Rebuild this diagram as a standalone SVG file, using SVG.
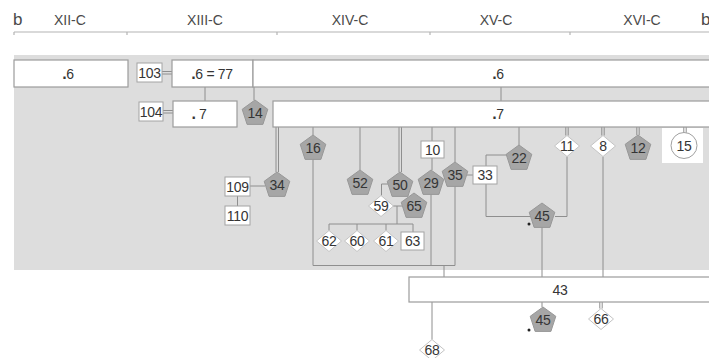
<svg xmlns="http://www.w3.org/2000/svg" xmlns:xlink="http://www.w3.org/1999/xlink" width="709" height="358" viewBox="0 0 709 358">
  <style>
    text { font-family: "Liberation Sans", Arial, sans-serif; fill: #353535; }
    .hdr { font-size: 14px; fill: #4a4a4a; }
    .big { font-size: 17px; fill: #4a4a4a; }
    .num { font-size: 14px; text-anchor: middle; letter-spacing: -0.3px; }
    .dot { font-weight: bold; font-size: 16px; }
    .box { fill: #ffffff; stroke: #9c9c9c; stroke-width: 1.2; }
    .sbox { fill: #ffffff; stroke: #a4a4a4; stroke-width: 1; }
    .pent { fill: #a6a6a6; stroke: #989898; stroke-width: 1; }
    .dia { fill: #ffffff; stroke: #c4c4c4; stroke-width: 1; }
    .ln { fill: none; stroke: #8e8e8e; stroke-width: 1; }
    .axis { fill: none; stroke: #b4b4b4; stroke-width: 1.2; }
  </style>
  <defs>
    <polygon id="pent" class="pent" points="0,-13.5 12.8,-4.2 7.9,10.9 -7.9,10.9 -12.8,-4.2"/>
    <polygon id="dia" class="dia" points="0,-10.5 12.5,0 0,10.5 -12.5,0"/>
  </defs>

  <!-- century scale -->
  <g id="scale">
    <text class="big" x="13" y="25">b</text>
    <text class="hdr" x="54" y="25">XII-C</text>
    <text class="hdr" x="205" y="25" text-anchor="middle">XIII-C</text>
    <text class="hdr" x="350" y="25" text-anchor="middle">XIV-C</text>
    <text class="hdr" x="496" y="25" text-anchor="middle">XV-C</text>
    <text class="hdr" x="642" y="25" text-anchor="middle">XVI-C</text>
    <text class="big" x="701" y="25">b</text>
    <path class="axis" d="M14,32 H709 M14,32 v3 M127,32 v3 M277,32 v3 M430,32 v3 M570,32 v3"/>
  </g>

  <!-- shaded field -->
  <rect x="14" y="55" width="695" height="215" fill="#dddddd"/>
  <rect x="662" y="128" width="41" height="35" fill="#ffffff"/>

  <!-- connectors -->
  <g id="connectors" class="ln">
    <path d="M162,71.5 H172 M162,74 H172"/>
    <path d="M163,110.5 H173 M163,113 H173"/>
    <path d="M205,87 V101"/>
    <path d="M254,60 V100"/>
    <path d="M501,87 V101"/>
    <path d="M276,127 V172 M278.5,127 V172"/>
    <path d="M250,186 H265"/>
    <path d="M237.5,196 V206"/>
    <path d="M313,127 V135 M313,158 V265.5 H455"/>
    <path d="M360,127 V170"/>
    <path d="M399,127 V172 M401.5,127 V172"/>
    <path d="M388,184 H381.5 V195.5"/>
    <path d="M392,206 H402 M397,206 V224 M329,224 H413 M329,224 V230.5 M357,224 V230.5 M386,224 V230.5 M413,224 V232"/>
    <path d="M432,127 V141 M432,158 V170 M431,194 V265.5"/>
    <path d="M455,127 V162 M455,186 V265.5"/>
    <path d="M444,265.5 V277"/>
    <path d="M467,175 H473"/>
    <path d="M519,127 V145 M508,155 H486 V216.5 H530"/>
    <path d="M567,156.5 V216.5 H555"/>
    <path d="M542,227 V277"/>
    <path d="M603,156.5 V277"/>
    <path d="M565.8,127 V135.5 M568.2,127 V135.5"/>
    <path d="M601.8,127 V135.5 M604.2,127 V135.5"/>
    <path d="M636.8,127 V135 M639.2,127 V135"/>
    <path d="M683.8,127 V133 M686.2,127 V133"/>
    <path d="M432,302 V339.5"/>
    <path d="M542,302 V307"/>
    <path d="M599.8,302 V308.5 M602.2,302 V308.5"/>
  </g>

  <!-- first row -->
  <g id="n-6a"><rect class="box" x="14" y="60" width="114" height="27"/><text class="num" x="68" y="78.5"><tspan class="dot">.</tspan>6</text></g>
  <g id="n-103"><rect class="sbox" x="137" y="63" width="25" height="19"/><text class="num" x="149.5" y="77.5">103</text></g>
  <g id="n-6-77"><rect class="box" x="172" y="60" width="81" height="27"/><text class="num" x="212" y="78.5"><tspan class="dot">.</tspan>6 = 77</text></g>
  <g id="n-6b"><rect class="box" x="253" y="60" width="460" height="27"/><text class="num" x="498" y="78.5"><tspan class="dot">.</tspan>6</text></g>

  <!-- second row -->
  <g id="n-104"><rect class="sbox" x="139" y="102" width="24" height="19"/><text class="num" x="151" y="116.5">104</text></g>
  <g id="n-7a"><rect class="box" x="173" y="101" width="64" height="26"/><text class="num" x="199" y="119"><tspan class="dot">.</tspan> 7</text></g>
  <g id="n-14"><use xlink:href="#pent" x="255" y="113.5"/><text class="num" x="255" y="118">14</text></g>
  <g id="n-7b"><rect class="box" x="273" y="101" width="440" height="26"/><text class="num" x="498" y="119"><tspan class="dot">.</tspan>7</text></g>

  <!-- pentagon nodes -->
  <g id="n-16"><use xlink:href="#pent" x="313" y="148.5"/><text class="num" x="313" y="153">16</text></g>
  <g id="n-34"><use xlink:href="#pent" x="277" y="185.5"/><text class="num" x="277" y="190">34</text></g>
  <g id="n-52"><use xlink:href="#pent" x="360" y="183.5"/><text class="num" x="360" y="188">52</text></g>
  <g id="n-50"><use xlink:href="#pent" x="400" y="185.5"/><text class="num" x="400" y="190">50</text></g>
  <g id="n-29"><use xlink:href="#pent" x="431" y="183.5"/><text class="num" x="431" y="188">29</text></g>
  <g id="n-35"><use xlink:href="#pent" x="455" y="175.5"/><text class="num" x="455" y="180">35</text></g>
  <g id="n-65"><use xlink:href="#pent" x="414" y="206.5"/><text class="num" x="414" y="211">65</text></g>
  <g id="n-22"><use xlink:href="#pent" x="519" y="158.5"/><text class="num" x="519" y="163">22</text></g>
  <g id="n-12"><use xlink:href="#pent" x="638" y="148.5"/><text class="num" x="638" y="153">12</text></g>
  <g id="n-45a"><use xlink:href="#pent" x="542" y="216.5"/><text class="num" x="542" y="221">45</text><circle cx="529" cy="224" r="1.5" fill="#222"/></g>

  <!-- diamond nodes -->
  <g id="n-11"><use xlink:href="#dia" x="567" y="146"/><text class="num" x="567" y="151">11</text></g>
  <g id="n-8"><use xlink:href="#dia" x="603" y="146"/><text class="num" x="603" y="151">8</text></g>
  <g id="n-59"><use xlink:href="#dia" x="381" y="206"/><text class="num" x="381" y="211">59</text></g>
  <g id="n-62"><use xlink:href="#dia" x="329" y="241"/><text class="num" x="329" y="246">62</text></g>
  <g id="n-60"><use xlink:href="#dia" x="357" y="241"/><text class="num" x="357" y="246">60</text></g>
  <g id="n-61"><use xlink:href="#dia" x="386" y="241"/><text class="num" x="386" y="246">61</text></g>

  <!-- small boxes -->
  <g id="n-10"><rect class="sbox" x="421" y="141" width="23" height="17"/><text class="num" x="432.5" y="154.5">10</text></g>
  <g id="n-33"><rect class="sbox" x="473" y="166" width="24" height="18"/><text class="num" x="485" y="180">33</text></g>
  <g id="n-109"><rect class="sbox" x="225" y="177" width="25" height="19"/><text class="num" x="237.5" y="191.5">109</text></g>
  <g id="n-110"><rect class="sbox" x="225" y="206" width="25" height="19"/><text class="num" x="237.5" y="220.5">110</text></g>
  <g id="n-63"><rect class="sbox" x="401" y="232" width="23" height="18"/><text class="num" x="412.5" y="246">63</text></g>

  <!-- circle node -->
  <g id="n-15"><circle cx="684" cy="145.5" r="13" fill="#ffffff" stroke="#a0a0a0" stroke-width="1"/><text class="num" x="684" y="150.5">15</text></g>

  <!-- lower row -->
  <g id="n-43"><rect class="box" x="409" y="277" width="304" height="25"/><text class="num" x="560" y="294.5">43</text></g>
  <g id="n-45b"><use xlink:href="#pent" x="543" y="320.5"/><text class="num" x="543" y="325">45</text><circle cx="529" cy="330" r="1.5" fill="#222"/></g>
  <g id="n-66"><use xlink:href="#dia" x="601" y="319"/><text class="num" x="601" y="324">66</text></g>
  <g id="n-68"><use xlink:href="#dia" x="432" y="350"/><text class="num" x="432" y="355">68</text></g>
</svg>
